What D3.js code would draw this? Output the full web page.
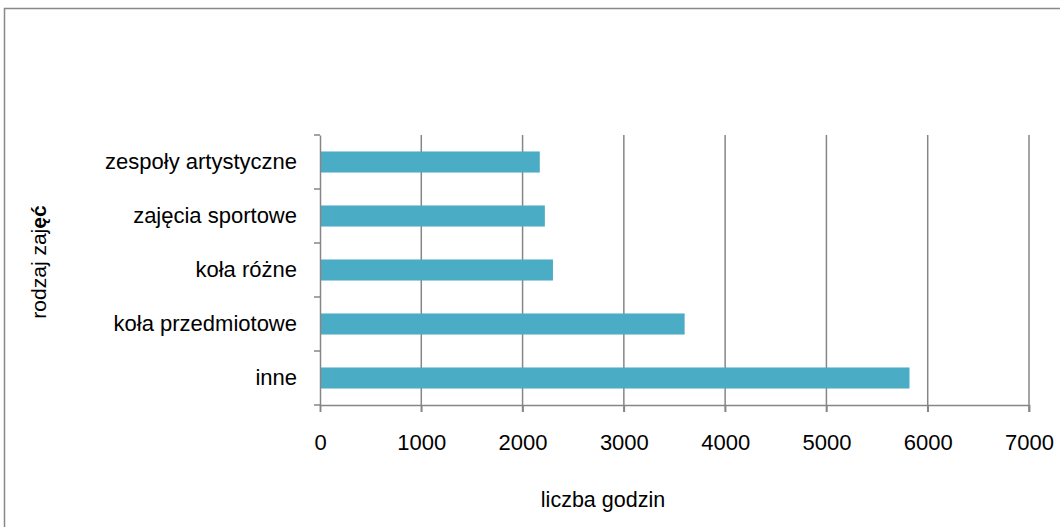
<!DOCTYPE html>
<html><head><meta charset="utf-8">
<script src="https://cdn.jsdelivr.net/npm/d3@7"></script>
<style>body{margin:0;background:#fff}svg{display:block}text{font-family:"Liberation Sans Narrow","Arial Narrow","Liberation Sans",sans-serif;fill:#000}</style>
</head><body><svg id="c" width="1060" height="527"></svg>
<script>
const categories = ["inne","koła przedmiotowe","koła różne","zajęcia sportowe","zespoły artystyczne"];
const values = [5820, 3600, 2300, 2220, 2170];
const xTicks = [0,1000,2000,3000,4000,5000,6000,7000];
const xTitle = "liczba godzin";
const yTitleParts = [{t:"rodzaj zaj",b:false},{t:"ęć",b:true}];

const svg = d3.select("#c");
const m = {l:320, r:1029, t:135, b:405};
const x = d3.scaleLinear().domain([0,7000]).range([m.l, m.r]);
const y = d3.scaleBand().domain(categories.slice().reverse()).range([m.t, m.b]).paddingInner(0.61).paddingOuter(0.305);
const yb = d3.scaleBand().domain(categories.slice().reverse()).range([m.t, m.b]);

// outer border
svg.append("rect").attr("x",4.5).attr("y",8.5).attr("width",1070).attr("height",540).attr("fill","none").attr("stroke","#888").attr("stroke-width",1.5);

// gridlines
svg.append("g").selectAll("line").data(xTicks.slice(1)).join("line")
  .attr("x1",d=>x(d)).attr("x2",d=>x(d)).attr("y1",m.t).attr("y2",m.b+7)
  .attr("stroke","#868686").attr("stroke-width",1.5);

// bars
svg.append("g").selectAll("rect").data(categories).join("rect")
  .attr("x",x(0)).attr("y",(d)=>y(d)).attr("height",y.bandwidth())
  .attr("width",(d,i)=>x(values[i])-x(0)).attr("fill","#4BACC6");

// x axis
const xa = svg.append("g").attr("transform",`translate(0,${m.b})`)
  .call(d3.axisBottom(x).tickValues(xTicks).tickSize(7).tickPadding(22).tickFormat(d3.format("d")));
xa.select(".domain").attr("stroke","#868686").attr("stroke-width",1.5);
xa.selectAll(".tick line").attr("stroke","#868686").attr("stroke-width",1.5);
xa.selectAll("text").style("font-size","22px").attr("fill","#000");

// y axis
const ya = svg.append("g").attr("transform",`translate(${m.l},0)`)
  .call(d3.axisLeft(yb).tickSize(0).tickPadding(23));
ya.select(".domain").attr("stroke","#868686").attr("stroke-width",1.5);
ya.selectAll("text").style("font-size","22px").attr("fill","#000");
// band boundary ticks
const bounds = categories.map(c=>yb(c)).concat([m.b]);
svg.append("g").selectAll("line").data(bounds).join("line")
  .attr("x1",m.l-6).attr("x2",m.l).attr("y1",d=>d).attr("y2",d=>d)
  .attr("stroke","#868686").attr("stroke-width",1.5);

// titles
svg.append("text").attr("x",603).attr("y",507).attr("text-anchor","middle").style("font-size","21.5px").text(xTitle);
const yt = svg.append("text").attr("transform","translate(46,262) rotate(-90)").attr("text-anchor","middle").style("font-size","21px");
yTitleParts.forEach(p=>yt.append("tspan").attr("font-weight",p.b?"bold":"normal").text(p.t));
</script></body></html>
